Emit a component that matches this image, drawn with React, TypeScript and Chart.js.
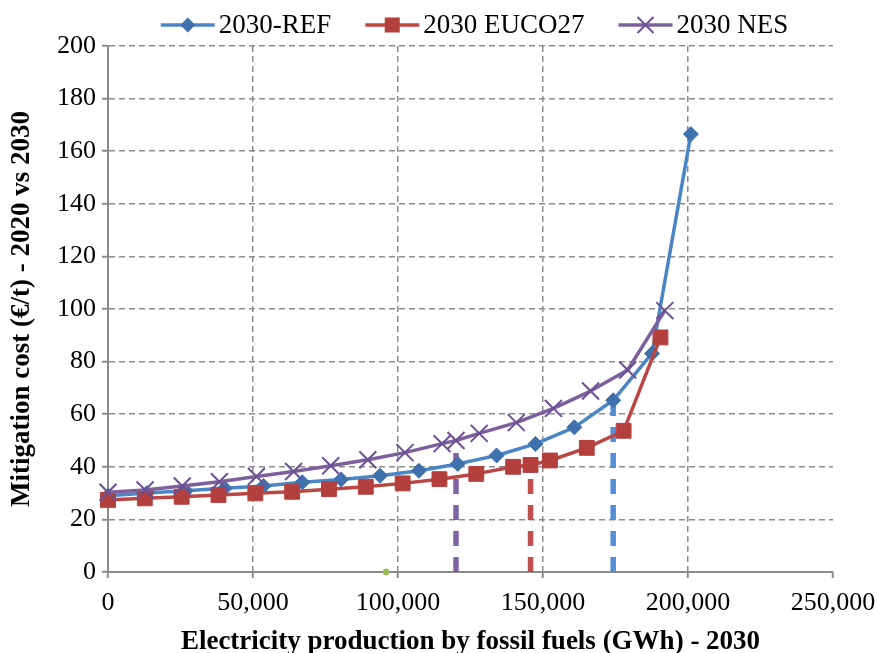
import React, { useEffect, useRef } from 'react';
import { Chart, registerables } from 'chart.js';

Chart.register(...registerables);

// ---- Data ----
const seriesNames = ['2030-REF', '2030 EUCO27', '2030 NES'];

const refX = [0, 13400, 26800, 40200, 53600, 67000, 80400, 93800, 107200, 120600, 134000, 147400, 160800, 174200, 187600, 201000];
const refY = [29.0, 30.0, 30.9, 31.8, 32.7, 34.1, 35.2, 36.6, 38.5, 41.1, 44.3, 48.7, 55.0, 65.3, 83.1, 166.5];

const eucoX = [0, 12700, 25400, 38100, 50800, 63500, 76200, 88900, 101600, 114300, 127000, 139700, 145700, 152400, 165100, 177800, 190500];
const eucoY = [27.4, 28.0, 28.6, 29.3, 29.9, 30.5, 31.5, 32.4, 33.7, 35.3, 37.3, 40.0, 40.7, 42.4, 47.2, 53.7, 89.2];

const nesX = [0, 12800, 25600, 38400, 51200, 64000, 76800, 89600, 102400, 115200, 120000, 128000, 140800, 153600, 166400, 179200, 192000];
const nesY = [30.3, 31.2, 32.7, 34.3, 36.3, 38.2, 40.4, 42.7, 45.4, 48.8, 50.0, 52.7, 56.8, 62.2, 68.8, 76.8, 99.4];

// vertical cut-off markers (NES, EUCO27, REF)
const cutX = [120000, 145700, 174200];
const cutY = [50.0, 40.7, 65.3];

const greenX = [95900];
const greenY = [0];

const xMin = 0, xMax = 250000, xStep = 50000;
const yMin = 0, yMax = 200, yStep = 20;

const xTitle = 'Electricity production by fossil fuels (GWh) - 2030';
const yTitle = 'Mitigation cost (€/t) - 2020 vs 2030';

// ---- Styles ----
const SERIF = '"Liberation Serif", "Times New Roman", serif';
const GRID = '#8c8c8c';
const REF_LINE = '#4a86c6';
const REF_MARK = '#3f71ad';
const EU_LINE = '#bb4744';
const EU_MARK = '#b3403d';
const NES_LINE = '#7d5f9e';
const NES_MARK = '#6c4f95';

const pts = (xs: number[], ys: number[]) => xs.map((x, i) => ({ x, y: ys[i] }));

const legendPlugin = {
  id: 'customLegend',
  afterDraw(chart: any) {
    const ctx: CanvasRenderingContext2D = chart.ctx;
    ctx.save();
    ctx.font = `27px ${SERIF}`;
    const lineLen = 54, gapText = 4, gapItem = 34;
    const widths = seriesNames.map((t) => ctx.measureText(t).width);
    const total = widths.reduce((a, w) => a + lineLen + gapText + w, 0) + gapItem * (seriesNames.length - 1);
    const ca = chart.chartArea;
    let x = (ca.left + ca.right) / 2 + 4 - total / 2;
    const y = 25;
    const lines = [REF_LINE, EU_LINE, NES_LINE];
    seriesNames.forEach((name, i) => {
      ctx.strokeStyle = lines[i];
      ctx.lineWidth = 3.5;
      ctx.lineCap = 'butt';
      ctx.beginPath();
      ctx.moveTo(x, y);
      ctx.lineTo(x + lineLen, y);
      ctx.stroke();
      const cx = x + lineLen / 2;
      if (i === 0) {
        ctx.fillStyle = REF_MARK;
        ctx.beginPath();
        ctx.moveTo(cx - 7.5, y);
        ctx.lineTo(cx, y - 7.5);
        ctx.lineTo(cx + 7.5, y);
        ctx.lineTo(cx, y + 7.5);
        ctx.closePath();
        ctx.fill();
      } else if (i === 1) {
        ctx.fillStyle = EU_MARK;
        ctx.fillRect(cx - 7.5, y - 7.5, 15, 15);
      } else {
        ctx.strokeStyle = NES_MARK;
        ctx.lineWidth = 2;
        ctx.beginPath();
        ctx.moveTo(cx - 8, y - 8);
        ctx.lineTo(cx + 8, y + 8);
        ctx.moveTo(cx - 8, y + 8);
        ctx.lineTo(cx + 8, y - 8);
        ctx.stroke();
      }
      ctx.fillStyle = '#000';
      ctx.textBaseline = 'middle';
      ctx.textAlign = 'left';
      ctx.fillText(name, x + lineLen + gapText, y + 1);
      x += lineLen + gapText + widths[i] + gapItem;
    });
    ctx.restore();
  },
};

export default function App() {
  const ref = useRef<HTMLCanvasElement | null>(null);

  useEffect(() => {
    if (!ref.current) return;
    const cutColors = ['#8064a2', '#c0504d', '#558ed5'];
    const cutSets = cutX.map((cx, i) => ({
      type: 'line' as const,
      data: [{ x: cx, y: 0 }, { x: cx, y: cutY[i] }],
      borderColor: cutColors[i],
      borderWidth: 5.5,
      borderDash: [15, 11],
      borderCapStyle: 'butt' as const,
      pointRadius: 0,
      clip: false as any,
      order: 10 + i,
    }));

    const chart = new Chart(ref.current, {
      type: 'line',
      data: {
        datasets: [
          {
            label: seriesNames[2],
            data: pts(nesX, nesY),
            borderColor: NES_LINE,
            borderWidth: 3.5,
            borderJoinStyle: 'round',
            pointStyle: 'crossRot',
            pointRadius: 12,
            pointBorderColor: NES_MARK,
            pointBackgroundColor: NES_MARK,
            pointBorderWidth: 2,
            tension: 0,
            clip: false as any,
            order: 1,
          },
          {
            label: 'green',
            data: pts(greenX, greenY),
            showLine: false,
            pointStyle: 'circle',
            pointRadius: 3,
            pointBackgroundColor: '#9bbb59',
            pointBorderColor: '#9bbb59',
            clip: false as any,
            order: 2,
          },
          {
            label: seriesNames[1],
            data: pts(eucoX, eucoY),
            borderColor: EU_LINE,
            borderWidth: 3.5,
            borderJoinStyle: 'round',
            pointStyle: 'rect',
            pointRadius: 10.5,
            pointBackgroundColor: EU_MARK,
            pointBorderColor: EU_MARK,
            pointBorderWidth: 1,
            tension: 0,
            clip: false as any,
            order: 3,
          },
          {
            label: seriesNames[0],
            data: pts(refX, refY),
            borderColor: REF_LINE,
            borderWidth: 3.5,
            borderJoinStyle: 'round',
            pointStyle: 'rectRot',
            pointRadius: 7.5,
            pointBackgroundColor: REF_MARK,
            pointBorderColor: REF_MARK,
            pointBorderWidth: 1,
            tension: 0,
            clip: false as any,
            order: 4,
          },
          ...cutSets,
        ] as any,
      },
      options: {
        animation: false,
        responsive: false,
        maintainAspectRatio: false,
        layout: { padding: { top: 46, right: 44, left: 0, bottom: 0 } },
        plugins: { legend: { display: false }, tooltip: { enabled: false } },
        scales: {
          x: {
            type: 'linear',
            min: xMin,
            max: xMax,
            ticks: {
              stepSize: xStep,
              autoSkip: false,
              maxRotation: 0,
              padding: 10,
              color: '#000',
              font: { family: SERIF, size: 26 },
              callback: (v: any) => Number(v).toLocaleString('en-US'),
            },
            grid: {
              color: (c: any) => (c.index === 0 || c.index === 5 ? 'rgba(0,0,0,0)' : GRID),
              lineWidth: 1.5,
              tickLength: 6,
              tickColor: GRID,
              tickWidth: 2,
              tickBorderDash: [],
            } as any,
            border: { display: true, color: GRID, width: 2, dash: [6, 4] },
            title: {
              display: true,
              text: xTitle,
              color: '#000',
              font: { family: SERIF, size: 27, weight: 'bold', lineHeight: 1.0 },
              padding: { top: 0, bottom: -3 },
            },
            afterFit: (s: any) => {
              s.height = 81;
              s.paddingLeft = 0;
              s.paddingRight = 0;
            },
          },
          y: {
            type: 'linear',
            min: yMin,
            max: yMax,
            ticks: {
              stepSize: yStep,
              padding: 6,
              color: '#000',
              font: { family: SERIF, size: 26 },
            },
            grid: {
              color: (c: any) => (c.index === 0 ? 'rgba(0,0,0,0)' : GRID),
              lineWidth: 1.5,
              tickLength: 6,
              tickColor: GRID,
              tickWidth: 2,
              tickBorderDash: [],
            } as any,
            border: { display: true, color: GRID, width: 2, dash: [6, 4] },
            title: {
              display: true,
              text: yTitle,
              color: '#000',
              font: { family: SERIF, size: 27, weight: 'bold', lineHeight: 1.2 },
              padding: { top: 6, bottom: 0 },
            },
            afterFit: (s: any) => {
              s.width = 108;
              s.paddingTop = 0;
              s.paddingBottom = 0;
            },
          },
        },
      } as any,
      plugins: [legendPlugin],
    });
    return () => chart.destroy();
  }, []);

  return (
    <div style={{ position: 'absolute', left: 0, top: 0, width: 877, height: 653, background: '#fff' }}>
      <canvas ref={ref} width={877} height={653} style={{ display: 'block' }} />
    </div>
  );
}
